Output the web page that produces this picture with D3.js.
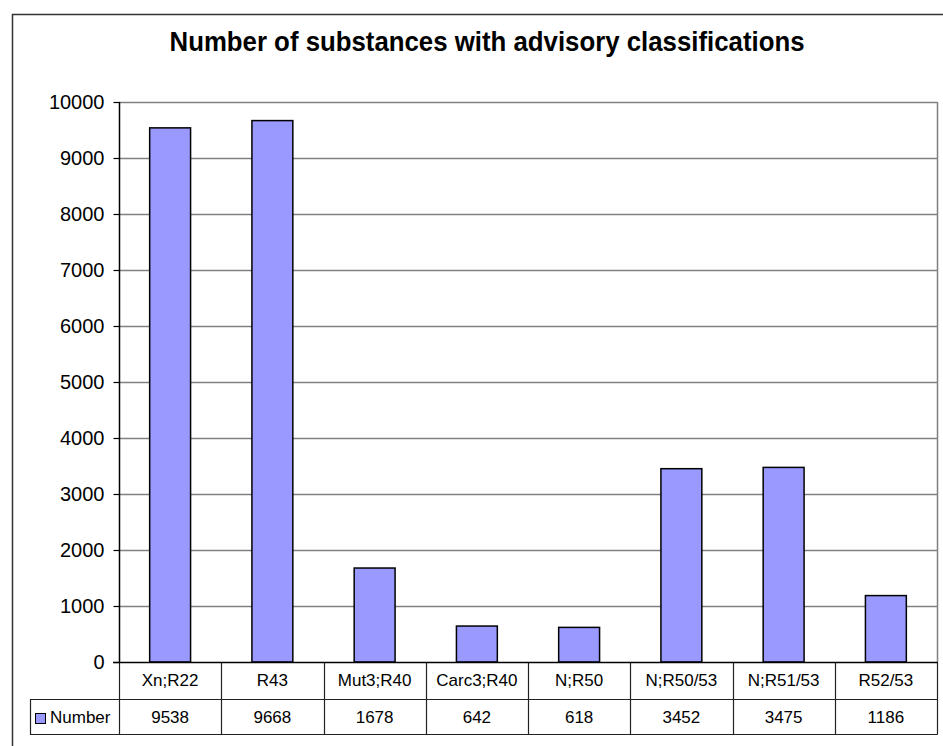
<!DOCTYPE html>
<html>
<head>
<meta charset="utf-8">
<script src="https://cdn.jsdelivr.net/npm/d3@7"></script>
<style>
  body { margin: 0; background: #fff; }
  svg { display: block; font-family: Arial, "Liberation Sans", sans-serif; }
</style>
</head>
<body>
<svg id="chart" width="943" height="746"></svg>
<script>
// chart data
const categories = ['Xn;R22', 'R43', 'Mut3;R40', 'Carc3;R40', 'N;R50', 'N;R50/53', 'N;R51/53', 'R52/53']
const values = [9538, 9668, 1678, 642, 618, 3452, 3475, 1186]
const yTicks = [0, 1000, 2000, 3000, 4000, 5000, 6000, 7000, 8000, 9000, 10000]
const seriesName = 'Number'

const svg = d3.select('#chart')
const width = 943
const height = 746

// plot area
const plot = {left: 119, right: 937, top: 102, bottom: 662}
const rowH = 36

// outer chart border (clipped by the window on the right and bottom)
svg.append('rect')
  .attr('x', 12.5)
  .attr('y', 14.5)
  .attr('width', width + 20)
  .attr('height', height + 20)
  .attr('fill', 'none')
  .attr('stroke', '#333')
  .attr('stroke-width', 1.5)

// title (Excel renders it condensed, so squeeze it to the same width)
svg.append('text')
  .attr('x', 487)
  .attr('y', 51)
  .attr('text-anchor', 'middle')
  .attr('font-size', 28)
  .attr('font-weight', 'bold')
  .attr('textLength', 635)
  .attr('lengthAdjust', 'spacingAndGlyphs')
  .text('Number of substances with advisory classifications')

const x = d3.scaleBand()
  .domain(categories)
  .range([plot.left, plot.right])
  .paddingInner(0.6)
  .paddingOuter(0.3)

const y = d3.scaleLinear()
  .domain([0, 10000])
  .range([plot.bottom, plot.top])

// gridlines
svg.append('g')
  .selectAll('line')
  .data(yTicks.filter(d => d > 0))
  .enter()
  .append('line')
  .attr('x1', plot.left)
  .attr('x2', plot.right)
  .attr('y1', d => Math.round(y(d)) + 0.5)
  .attr('y2', d => Math.round(y(d)) + 0.5)
  .attr('stroke', '#808080')
  .attr('stroke-width', 1.5)

// right border of the plot area
svg.append('line')
  .attr('x1', plot.right + 0.5)
  .attr('x2', plot.right + 0.5)
  .attr('y1', plot.top)
  .attr('y2', plot.bottom)
  .attr('stroke', '#808080')
  .attr('stroke-width', 1.5)

// bars
svg.append('g')
  .selectAll('rect')
  .data(values)
  .enter()
  .append('rect')
  .attr('x', (d, i) => x(categories[i]))
  .attr('y', d => y(d))
  .attr('width', x.bandwidth())
  .attr('height', d => y(0) - y(d))
  .attr('fill', '#9999FF')
  .attr('stroke', '#000')
  .attr('stroke-width', 1.5)

// y axis
const yAxis = svg.append('g')
  .attr('transform', `translate(${plot.left + 0.5},0)`)
  .call(d3.axisLeft(y).tickValues(yTicks).tickSize(6).tickPadding(9).tickFormat(d3.format('d')))

yAxis.select('.domain').remove()
yAxis.selectAll('.tick line').attr('stroke', '#000').attr('stroke-width', 1.2)
yAxis.selectAll('.tick text')
  .attr('font-size', 20)
  .attr('font-family', 'Arial, "Liberation Sans", sans-serif')
  .attr('fill', '#000')

// data table below the axis
const table = svg.append('g')
const row1 = plot.bottom
const row2 = plot.bottom + rowH + 1
const row3 = row2 + rowH - 1
const legendLeft = 30
const colStep = x.step() * (1 + 2 * 0.3 - 0.6) // one table column per category
const colEdges = d3.range(categories.length + 1).map(i => plot.left + i * (plot.right - plot.left) / categories.length)

// horizontal table lines
table.append('line')
  .attr('x1', legendLeft).attr('x2', plot.right + 0.5)
  .attr('y1', row2 + 0.5).attr('y2', row2 + 0.5)
table.append('line')
  .attr('x1', legendLeft).attr('x2', plot.right + 0.5)
  .attr('y1', row3 + 0.5).attr('y2', row3 + 0.5)

// vertical table lines at each category boundary
table.selectAll('.vline')
  .data(colEdges)
  .enter()
  .append('line')
  .attr('class', 'vline')
  .attr('x1', d => Math.round(d) + 0.5)
  .attr('x2', d => Math.round(d) + 0.5)
  .attr('y1', row1)
  .attr('y2', row3 + 0.5)

table.append('line')
  .attr('x1', legendLeft + 0.5).attr('x2', legendLeft + 0.5)
  .attr('y1', row2).attr('y2', row3 + 0.5)

table.selectAll('line')
  .attr('stroke', '#222')
  .attr('stroke-width', 1.2)

// x axis line (zero line)
svg.append('line')
  .attr('x1', plot.left - 6)
  .attr('x2', plot.right + 0.5)
  .attr('y1', plot.bottom + 0.5)
  .attr('y2', plot.bottom + 0.5)
  .attr('stroke', '#000')
  .attr('stroke-width', 1.5)

// y axis line
svg.append('line')
  .attr('x1', plot.left + 0.5)
  .attr('x2', plot.left + 0.5)
  .attr('y1', plot.top)
  .attr('y2', plot.bottom)
  .attr('stroke', '#000')
  .attr('stroke-width', 1.5)

// category labels
table.selectAll('.cat')
  .data(categories)
  .enter()
  .append('text')
  .attr('class', 'cat')
  .attr('x', (d, i) => (colEdges[i] + colEdges[i + 1]) / 2)
  .attr('y', row1 + 24)
  .attr('text-anchor', 'middle')
  .attr('font-size', 17)
  .text(d => d)

// values
table.selectAll('.val')
  .data(values)
  .enter()
  .append('text')
  .attr('class', 'val')
  .attr('x', (d, i) => (colEdges[i] + colEdges[i + 1]) / 2)
  .attr('y', row2 + 24)
  .attr('text-anchor', 'middle')
  .attr('font-size', 17)
  .text(d => d)

// legend key
table.append('rect')
  .attr('x', 35.5)
  .attr('y', 713.5)
  .attr('width', 10)
  .attr('height', 10)
  .attr('fill', '#9999FF')
  .attr('stroke', '#000')
  .attr('stroke-width', 1)

table.append('text')
  .attr('x', 50)
  .attr('y', row2 + 24)
  .attr('font-size', 17)
  .text(seriesName)
</script>
</body>
</html>
